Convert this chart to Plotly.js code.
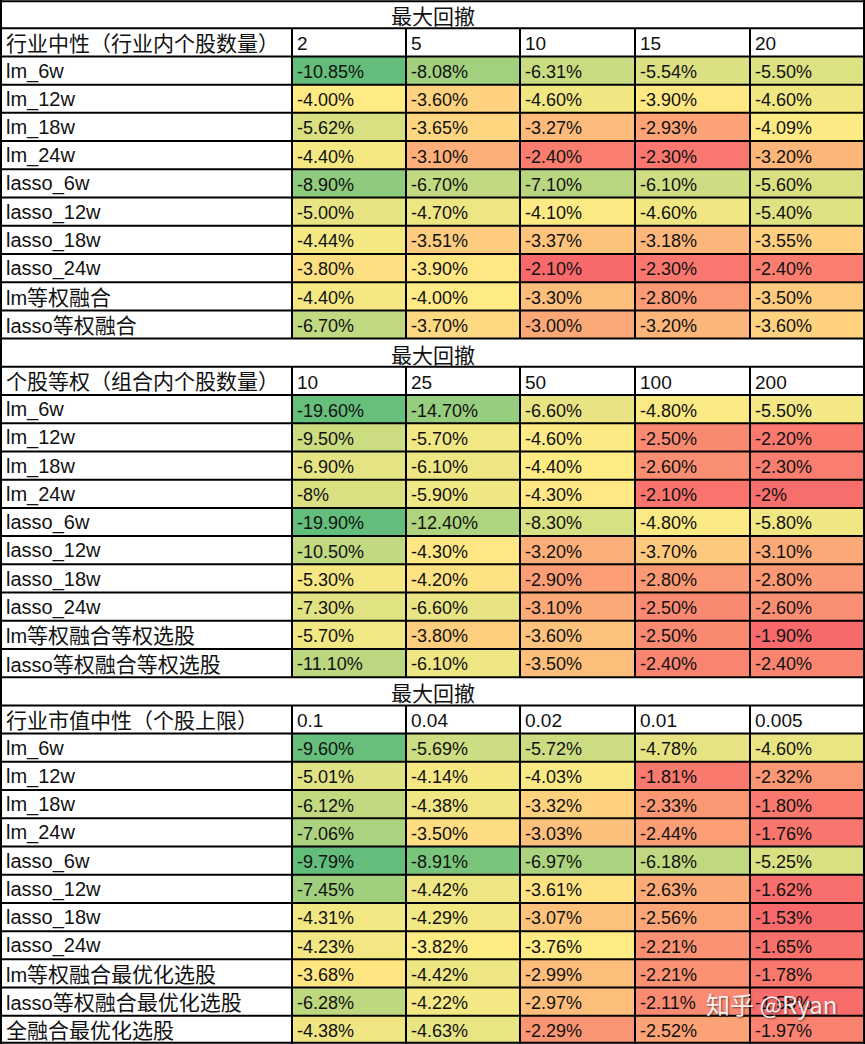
<!DOCTYPE html>
<html>
<head>
<meta charset="utf-8">
<script src="https://cdn.plot.ly/plotly-3.0.1.min.js"></script>
<style>html,body{margin:0;padding:0;background:#fff;}</style>
</head>
<body>
<div id="chart" style="width:865px;height:1044px;"></div>
<script>
// ---------------- data ----------------
const tableTitle = '最大回撤';

const sectionHeads = ['行业中性（行业内个股数量）', '个股等权（组合内个股数量）', '行业市值中性（个股上限）'];

const colHeads1 = ['2', '5', '10', '15', '20'];
const colHeads2 = ['10', '25', '50', '100', '200'];
const colHeads3 = ['0.1', '0.04', '0.02', '0.01', '0.005'];

const rowLabels1 = ['lm_6w', 'lm_12w', 'lm_18w', 'lm_24w', 'lasso_6w', 'lasso_12w', 'lasso_18w', 'lasso_24w', 'lm等权融合', 'lasso等权融合'];
const rowLabels2 = ['lm_6w', 'lm_12w', 'lm_18w', 'lm_24w', 'lasso_6w', 'lasso_12w', 'lasso_18w', 'lasso_24w', 'lm等权融合等权选股', 'lasso等权融合等权选股'];
const rowLabels3 = ['lm_6w', 'lm_12w', 'lm_18w', 'lm_24w', 'lasso_6w', 'lasso_12w', 'lasso_18w', 'lasso_24w', 'lm等权融合最优化选股', 'lasso等权融合最优化选股', '全融合最优化选股'];

const values1 = [
  ['-10.85%', '-8.08%', '-6.31%', '-5.54%', '-5.50%'],
  ['-4.00%', '-3.60%', '-4.60%', '-3.90%', '-4.60%'],
  ['-5.62%', '-3.65%', '-3.27%', '-2.93%', '-4.09%'],
  ['-4.40%', '-3.10%', '-2.40%', '-2.30%', '-3.20%'],
  ['-8.90%', '-6.70%', '-7.10%', '-6.10%', '-5.60%'],
  ['-5.00%', '-4.70%', '-4.10%', '-4.60%', '-5.40%'],
  ['-4.44%', '-3.51%', '-3.37%', '-3.18%', '-3.55%'],
  ['-3.80%', '-3.90%', '-2.10%', '-2.30%', '-2.40%'],
  ['-4.40%', '-4.00%', '-3.30%', '-2.80%', '-3.50%'],
  ['-6.70%', '-3.70%', '-3.00%', '-3.20%', '-3.60%']
];
const values2 = [
  ['-19.60%', '-14.70%', '-6.60%', '-4.80%', '-5.50%'],
  ['-9.50%', '-5.70%', '-4.60%', '-2.50%', '-2.20%'],
  ['-6.90%', '-6.10%', '-4.40%', '-2.60%', '-2.30%'],
  ['-8%', '-5.90%', '-4.30%', '-2.10%', '-2%'],
  ['-19.90%', '-12.40%', '-8.30%', '-4.80%', '-5.80%'],
  ['-10.50%', '-4.30%', '-3.20%', '-3.70%', '-3.10%'],
  ['-5.30%', '-4.20%', '-2.90%', '-2.80%', '-2.80%'],
  ['-7.30%', '-6.60%', '-3.10%', '-2.50%', '-2.60%'],
  ['-5.70%', '-3.80%', '-3.60%', '-2.50%', '-1.90%'],
  ['-11.10%', '-6.10%', '-3.50%', '-2.40%', '-2.40%']
];
const values3 = [
  ['-9.60%', '-5.69%', '-5.72%', '-4.78%', '-4.60%'],
  ['-5.01%', '-4.14%', '-4.03%', '-1.81%', '-2.32%'],
  ['-6.12%', '-4.38%', '-3.32%', '-2.33%', '-1.80%'],
  ['-7.06%', '-3.50%', '-3.03%', '-2.44%', '-1.76%'],
  ['-9.79%', '-8.91%', '-6.97%', '-6.18%', '-5.25%'],
  ['-7.45%', '-4.42%', '-3.61%', '-2.63%', '-1.62%'],
  ['-4.31%', '-4.29%', '-3.07%', '-2.56%', '-1.53%'],
  ['-4.23%', '-3.82%', '-3.76%', '-2.21%', '-1.65%'],
  ['-3.68%', '-4.42%', '-2.99%', '-2.21%', '-1.78%'],
  ['-6.28%', '-4.22%', '-2.97%', '-2.11%', '-1.58%'],
  ['-4.38%', '-4.63%', '-2.29%', '-2.52%', '-1.97%']
];

const watermark = '知乎 @Ryan';

// ---------------- layout constants ----------------
const W = 865, H = 1044;
const colEdges = [0, 292, 406, 520, 635, 750, 865];
const sections = [
  {head: sectionHeads[0], cols: colHeads1, rows: rowLabels1, vals: values1},
  {head: sectionHeads[1], cols: colHeads2, rows: rowLabels2, vals: values2},
  {head: sectionHeads[2], cols: colHeads3, rows: rowLabels3, vals: values3}
];
const totalRows = sections.reduce((a, s) => a + s.rows.length + 2, 0);

const GREEN = 'rgb(99,190,123)', YELLOW = 'rgb(255,235,132)', RED = 'rgb(248,105,107)';
const LATIN = '"Liberation Sans", sans-serif';
const CJK = '"Noto Sans CJK SC", sans-serif';
const FS_NUM = 18;    // numbers
const FS_LAB = 20;    // latin in row labels
const FS_CJK = 21;    // CJK text
const TXT = '#111';
const CJK_RE = /[\u3000-\u303f\u4e00-\u9fff\uff00-\uffef]/;

const traces = [];
const annotations = [];
const shapes = [];

function median(arr) {
  const s = arr.slice().sort((a, b) => a - b);
  const n = s.length;
  return n % 2 ? s[(n - 1) / 2] : (s[n / 2 - 1] + s[n / 2]) / 2;
}

function addText(x, y, text, anchor, latinSize, dy) {
  let txt, font;
  if (CJK_RE.test(text)) {
    txt = text.replace(/([^\u3000-\u303f\u4e00-\u9fff\uff00-\uffef]+)/g,
      '<span style="font-family:\'Liberation Sans\';font-size:' + latinSize + 'px">$1</span>');
    font = {family: CJK, size: FS_CJK, color: TXT};
  } else {
    txt = text;
    font = {family: LATIN, size: latinSize, color: TXT};
  }
  annotations.push({x: x, y: y, text: txt, showarrow: false, yshift: dy || 0,
    xanchor: anchor || 'left', yanchor: 'middle', font: font});
}

let r0 = 0;
sections.forEach((sec) => {
  const z = sec.vals.map(row => row.map(v => parseFloat(v)));
  const flat = z.flat();
  const zmin = Math.min(...flat), zmax = Math.max(...flat);
  const t = (median(flat) - zmin) / (zmax - zmin);
  const yEdges = [];
  for (let i = 0; i <= sec.rows.length; i++) yEdges.push(r0 + 2 + i);
  traces.push({
    type: 'heatmap',
    z: z,
    x: colEdges.slice(1),
    y: yEdges,
    zmin: zmin, zmax: zmax,
    colorscale: [[0, GREEN], [t, YELLOW], [1, RED]],
    showscale: false,
    hoverinfo: 'skip'
  });
  addText(W / 2, r0 + 0.53, tableTitle, 'center', FS_LAB, 0);
  addText(colEdges[0] + 4, r0 + 1.52, sec.head, 'left', FS_LAB, 1);
  sec.cols.forEach((c, j) => addText(colEdges[j + 1] + 3, r0 + 1.55, c, 'left', FS_NUM + 1, 0));
  sec.rows.forEach((lab, i) => {
    addText(colEdges[0] + 4, r0 + 2.52 + i, lab, 'left', FS_LAB, CJK_RE.test(lab) ? 1 : 0);
    sec.vals[i].forEach((v, j) => addText(colEdges[j + 1] + 3, r0 + 2.55 + i, v, 'left', FS_NUM, 0));
  });
  colEdges.slice(1, -1).forEach(x => {
    shapes.push({type: 'line', xref: 'x', yref: 'y', x0: x, x1: x, y0: r0 + 1, y1: r0 + 2 + sec.rows.length,
      line: {color: '#000', width: 2}});
  });
  r0 += sec.rows.length + 2;
});

for (let r = 0; r <= totalRows; r++) {
  const y = r === 0 ? 0.04 : (r === totalRows ? totalRows - 0.04 : r);
  shapes.push({type: 'line', xref: 'x', yref: 'y', x0: 0, x1: W, y0: y, y1: y, line: {color: '#000', width: 2}});
}
[1, W - 1].forEach(x => {
  shapes.push({type: 'line', xref: 'x', yref: 'y', x0: x, x1: x, y0: 0, y1: totalRows, line: {color: '#000', width: 2}});
});

annotations.push({x: 771, y: totalRows - 1.45, text: watermark, showarrow: false,
  xanchor: 'center', yanchor: 'middle',
  font: {family: CJK, size: 24, color: 'rgba(255,255,255,0.92)', shadow: '1px 1px 2px rgba(0,0,0,0.55)'}});

const layout = {
  width: W, height: H,
  margin: {l: 0, r: 0, t: 0, b: 0, pad: 0},
  paper_bgcolor: '#fff', plot_bgcolor: '#fff',
  xaxis: {range: [0, W], visible: false, fixedrange: true},
  yaxis: {range: [totalRows, 0], visible: false, fixedrange: true},
  showlegend: false,
  annotations: annotations,
  shapes: shapes
};

Plotly.newPlot('chart', traces, layout, {displayModeBar: false, staticPlot: true});
</script>
</body>
</html>
